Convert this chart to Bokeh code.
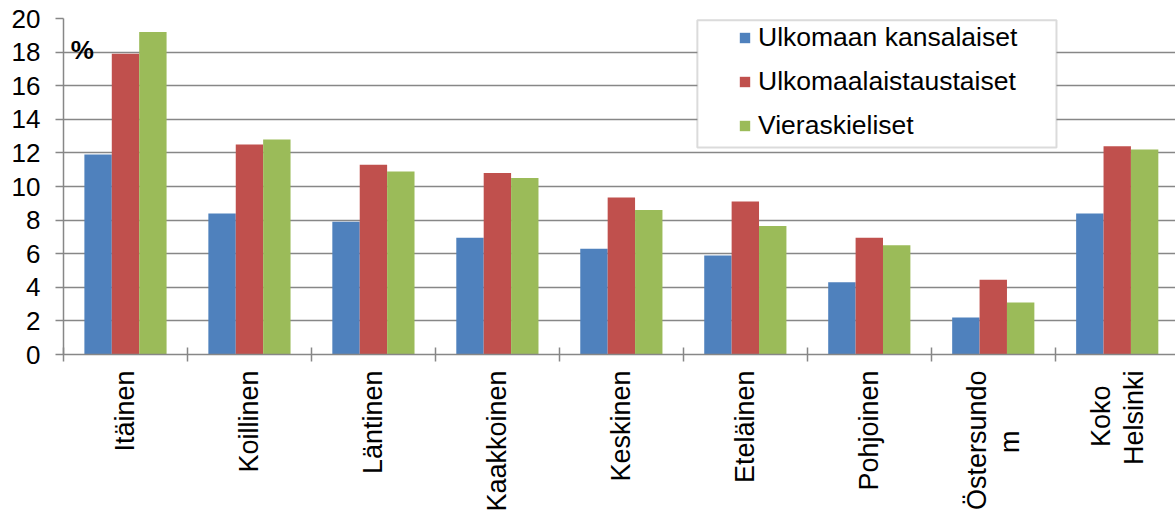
import math
from bokeh.plotting import figure
from bokeh.models import Range1d, FixedTicker, Legend, LegendItem, BoxAnnotation, Label
from bokeh.embed import file_html
from bokeh.resources import INLINE

NB = "\u00a0"
categories = ["Itäinen", "Koillinen", "Läntinen", "Kaakkoinen", "Keskinen",
              "Eteläinen", "Pohjoinen", "Östersundo\nm", "Koko\nHelsinki"]
series_names = ["Ulkomaan kansalaiset", "Ulkomaalaistaustaiset", "Vieraskieliset"]
ulkomaan_kansalaiset = [11.9, 8.4, 7.9, 6.95, 6.3, 5.9, 4.3, 2.2, 8.4]
ulkomaalaistaustaiset = [17.9, 12.5, 11.3, 10.8, 9.35, 9.1, 6.95, 4.45, 12.4]
vieraskieliset = [19.2, 12.8, 10.9, 10.5, 8.6, 7.65, 6.5, 3.1, 12.2]
y_ticks = [0, 2, 4, 6, 8, 10, 12, 14, 16, 18, 20]

colors = ["#4F81BD", "#C0504D", "#9BBB59"]
GRAY = "#878787"
FONT = "Liberation Sans"
FS = "27px"

# short second lines are centred under the first line, as in the reference
display_labels = []
for lab in categories:
    if "\n" in lab:
        first, second = lab.split("\n")
        pad = {"m": 8, "Helsinki": 0}.get(second, 0)
        first_pad = 2 if first == "Koko" else 0
        display_labels.append(first + NB * first_pad + "\n" + second + NB * pad)
    else:
        display_labels.append(lab)

n = len(categories)
centers = [i + 0.5 for i in range(n)]
bar_w = 0.221
offsets = [-bar_w, 0.0, bar_w]

p = figure(width=1175, height=514,
           x_range=Range1d(0, 8.97), y_range=Range1d(0, 20),
           output_backend="svg", toolbar_location=None,
           min_border_left=63, min_border_right=0,
           min_border_top=18, min_border_bottom=158)
p.outline_line_color = None
p.background_fill_color = "white"
p.border_fill_color = "white"

renderers = []
for vals, off, col in zip([ulkomaan_kansalaiset, ulkomaalaistaustaiset, vieraskieliset], offsets, colors):
    r = p.vbar(x=[c + off for c in centers], top=vals, width=bar_w, bottom=0,
               fill_color=col, line_color=None)
    renderers.append(r)

# grid
p.xgrid.visible = False
p.ygrid.grid_line_color = GRAY
p.ygrid.grid_line_width = 1.5

# y axis
p.yaxis.ticker = FixedTicker(ticks=y_ticks, minor_ticks=[])
p.yaxis.axis_line_color = GRAY
p.yaxis.axis_line_width = 1.5
p.yaxis.major_tick_line_color = GRAY
p.yaxis.major_tick_line_width = 1.5
p.yaxis.major_tick_in = 0
p.yaxis.major_tick_out = 8
p.yaxis.minor_tick_line_color = None
p.yaxis.major_label_standoff = 15
p.yaxis.major_label_text_font = FONT
p.yaxis.major_label_text_font_size = "26px"
p.yaxis.major_label_text_color = "black"

# x axis
p.xaxis.ticker = FixedTicker(ticks=centers, minor_ticks=list(range(n + 1)))
p.xaxis.major_label_overrides = {c: lab for c, lab in zip(centers, display_labels)}
p.xaxis.axis_line_color = GRAY
p.xaxis.axis_line_width = 1.5
p.xaxis.major_tick_line_color = None
p.xaxis.major_tick_in = 0
p.xaxis.major_tick_out = 0
p.xaxis.minor_tick_line_color = GRAY
p.xaxis.minor_tick_line_width = 1.5
p.xaxis.minor_tick_in = 7
p.xaxis.minor_tick_out = 7
p.xaxis.major_label_orientation = math.pi / 2
p.xaxis.major_label_standoff = 9
p.xaxis.major_label_text_font = FONT
p.xaxis.major_label_text_font_size = FS
p.xaxis.major_label_text_color = "black"
p.xaxis.major_label_text_line_height = 1.1

# % label
p.add_layout(Label(x=0.059, y=18.12, text="%", text_font=FONT, text_font_size="26px",
                   text_font_style="bold", text_color="black", text_baseline="alphabetic"))

# legend frame
p.add_layout(BoxAnnotation(left=5.113, right=8.01, top=19.89, bottom=12.32,
                           fill_color="white", fill_alpha=1.0,
                           line_color=GRAY, line_width=2, level="annotation"))

legend = Legend(items=[LegendItem(label=nm, renderers=[r]) for nm, r in zip(series_names, renderers)],
                location=(675, 213.5), padding=0, margin=0,
                border_line_color=None, background_fill_alpha=0,
                glyph_width=13, glyph_height=13, label_standoff=7, spacing=13,
                label_height=30, label_text_font=FONT, label_text_font_size="26.5px",
                label_text_color="black")
p.add_layout(legend)

open("out.html", "w").write(file_html(p, INLINE))
